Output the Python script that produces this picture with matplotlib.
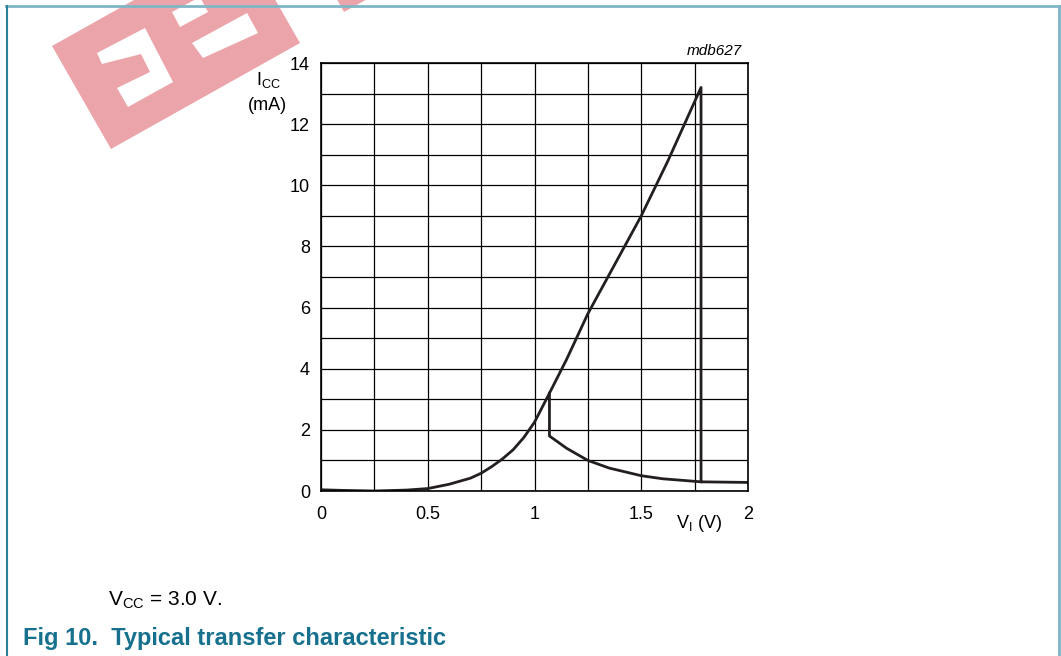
import numpy as np
import matplotlib
matplotlib.use("Agg")
import matplotlib.pyplot as plt
from matplotlib.patches import Polygon

plt.rcParams['font.family'] = ['Liberation Sans', 'DejaVu Sans']
plt.rcParams['mathtext.fontset'] = 'custom'
plt.rcParams['mathtext.rm'] = 'Liberation Sans'
plt.rcParams['mathtext.it'] = 'Liberation Sans:italic'

# rising branch (V_I in V, I_CC in mA), then switch-off and tail
vi_up = [0, 0.1, 0.25, 0.4, 0.5, 0.6, 0.7, 0.75, 0.8, 0.85, 0.9, 0.95, 1.0,
         1.07, 1.15, 1.25, 1.375, 1.5, 1.625, 1.78, 1.78, 2.0]
icc_up = [0.04, 0.02, 0.0, 0.03, 0.08, 0.22, 0.42, 0.58, 0.8, 1.05, 1.35, 1.75, 2.25,
          3.2, 4.3, 5.8, 7.4, 9.0, 10.8, 13.2, 0.3, 0.28]

# falling branch (hysteresis)
vi_down = [1.07, 1.07, 1.15, 1.25, 1.35, 1.5, 1.6, 1.78]
icc_down = [3.2, 1.8, 1.4, 1.0, 0.75, 0.5, 0.4, 0.3]

xticks = [0, 0.5, 1, 1.5, 2]
xlabels = ['0', '0.5', '1', '1.5', '2']
yticks = [0, 2, 4, 6, 8, 10, 12, 14]

W, H = 1061, 656
fig = plt.figure(figsize=(W / 100, H / 100), dpi=100)


def px(x, y):
    return (x / W, 1 - y / H)


# watermark
wm = '#eba5aa'
blocks = [
    [(52, 46), (111, 149), (300, 43), (241, -60)],
    [(286, -93), (344, 12), (540, -97), (482, -200)],
]
for b in blocks:
    fig.patches.append(Polygon([px(*p) for p in b], closed=True, facecolor=wm,
                               edgecolor='none', transform=fig.transFigure))
holes = [
    [(97, 53), (145, 28), (173, 82), (128, 107), (117, 88), (150, 72), (141, 54), (102, 64)],
    [(192, 43), (247, 13), (258, 33), (203, 58)],
    [(172, 12), (200, -3), (208, 12), (180, 27)],
]
for h in holes:
    fig.patches.append(Polygon([px(*p) for p in h], closed=True, facecolor='white',
                               edgecolor='none', transform=fig.transFigure))

# page frame
fig.add_artist(plt.Line2D([6 / W, 1059 / W], [1 - 6 / H, 1 - 6 / H], color='#7fb6c6', lw=2))
fig.add_artist(plt.Line2D([1059 / W, 1059 / W], [1 - 6 / H, 0], color='#7fb6c6', lw=2))
fig.add_artist(plt.Line2D([7 / W, 7 / W], [1 - 6 / H, 0], color='#2a7f9a', lw=1.5))

ax = fig.add_axes([321 / W, 165 / H, 427 / W, 428 / H])
ax.set_xlim(0, 2)
ax.set_ylim(0, 14)
ax.set_xticks(xticks)
ax.set_xticklabels(xlabels)
ax.set_yticks(yticks)
ax.set_xticks([0.25, 0.75, 1.25, 1.75], minor=True)
ax.set_yticks(np.arange(1, 14, 2), minor=True)
ax.grid(which='both', color='black', lw=0.9)
ax.tick_params(which='both', length=0, labelsize=13)
ax.tick_params(axis='x', pad=11)
ax.tick_params(axis='y', pad=8)
for s in ax.spines.values():
    s.set_linewidth(1.2)

ax.plot(vi_up, icc_up, color='#231f20', lw=2)
ax.plot(vi_down, icc_down, color='#231f20', lw=2)

fig.text(*px(742, 51), 'mdb627', ha='right', va='center', fontsize=11, style='italic')
fig.text(*px(268, 80), r'$\mathregular{I_{CC}}$', ha='center', va='center', fontsize=13)
fig.text(*px(267, 105), '(mA)', ha='center', va='center', fontsize=13)
fig.text(*px(699, 524), r'$\mathregular{V_{I}}$ (V)', ha='center', va='center', fontsize=13)
fig.text(*px(108, 606), r'$\mathregular{V_{CC}}$ = 3.0 V.', ha='left', va='baseline', fontsize=15)
fig.text(*px(23, 645), 'Fig 10.  Typical transfer characteristic', ha='left', va='baseline',
         fontsize=17, fontweight='bold', color='#16708e')

fig.savefig('out.png', dpi=100)
